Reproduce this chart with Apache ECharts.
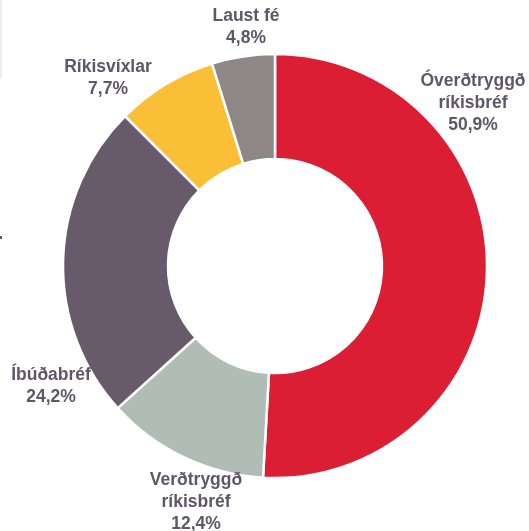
<!DOCTYPE html>
<html>
<head>
<meta charset="UTF-8">
<title>Eignasamsetning</title>
<script src="https://cdn.jsdelivr.net/npm/echarts@6/dist/echarts.min.js"></script>
<style>
  html, body { margin: 0; padding: 0; background: #fff; }
  #chart { width: 529px; height: 531px; }
</style>
</head>
<body>
<div id="chart"></div>
<script>
// data
var categories = ['Óverðtryggð\nríkisbréf', 'Verðtryggð\nríkisbréf', 'Íbúðabréf', 'Ríkisvíxlar', 'Laust fé'];
var shares = [50.9, 12.4, 24.2, 7.7, 4.8];

// styles
var colors = ['#dc1e35', '#b0bcb6', '#675a6a', '#fbbf37', '#8f8786'];
var labelPos = [[473, 103], [196, 502], [51, 386], [108, 78], [246, 27]];
var textColor = '#5f566a';

var chart = echarts.init(document.getElementById('chart'));

var option = {
  animation: false,
  color: colors,
  graphic: [
    { type: 'rect', shape: { x: 0, y: 0, width: 2, height: 78 }, style: { fill: '#eeeeee' } },
    { type: 'rect', shape: { x: 0, y: 236, width: 2, height: 3 }, style: { fill: '#5f566a' } }
  ],
  series: [{
    type: 'pie',
    center: [275, 266],
    radius: [107, 212],
    startAngle: 90,
    clockwise: true,
    avoidLabelOverlap: false,
    emphasis: { disabled: true },
    itemStyle: { borderColor: '#fff', borderWidth: 2.5 },
    label: {
      show: true,
      position: 'outside',
      color: textColor,
      fontFamily: 'Liberation Sans, Arial, sans-serif',
      fontWeight: 'bold',
      fontSize: 17.5,
      lineHeight: 22,
      align: 'center',
      formatter: function (p) {
        return p.name + '\n' + p.value.toFixed(1).replace('.', ',') + '%';
      }
    },
    labelLine: { show: false },
    labelLayout: function (params) {
      var pos = labelPos[params.dataIndex];
      return { x: pos[0], y: pos[1], align: 'center', verticalAlign: 'middle' };
    },
    data: categories.map(function (c, i) {
      return { name: c, value: shares[i] };
    })
  }]
};

chart.setOption(option);
</script>
</body>
</html>
